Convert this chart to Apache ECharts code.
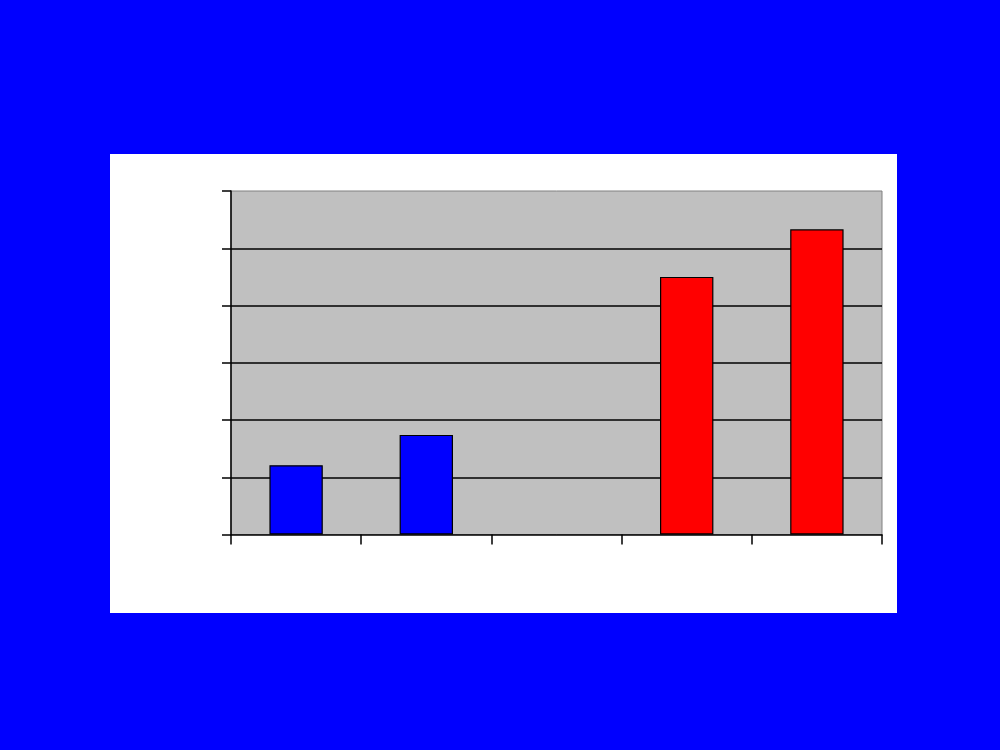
<!DOCTYPE html>
<html><head><meta charset="utf-8">
<script src="https://cdn.jsdelivr.net/npm/echarts@6/dist/echarts.min.js"></script>
<style>html,body{margin:0;padding:0;background:#0000FF;}#c{width:1000px;height:750px;}</style>
</head><body><div id="c"></div>
<script>
const categories = ['1', '2', '3', '4', '5'];
const blueValues = [1.21, 1.74, null, null, null];
const redValues = [null, null, null, 4.5, 5.33];
const yTicks = [0, 1, 2, 3, 4, 5, 6];

const chart = echarts.init(document.getElementById('c'));
chart.setOption({
  backgroundColor: '#0000FF',
  animation: false,
  graphic: [{
    type: 'rect', z: -10, silent: true,
    shape: { x: 110, y: 154, width: 787, height: 459 },
    style: { fill: '#FFFFFF' }
  }],
  grid: {
    left: 231, top: 191, width: 651, height: 343.5,
    show: true, backgroundColor: '#C0C0C0', borderColor: '#808080', borderWidth: 1
  },
  xAxis: {
    type: 'category', data: categories,
    axisLine: { lineStyle: { color: '#000', width: 1.5 } },
    axisTick: { show: true, length: 10, lineStyle: { color: '#000', width: 1.5 } },
    axisLabel: { show: false },
    splitLine: { show: false }
  },
  yAxis: {
    type: 'value', min: yTicks[0], max: yTicks[yTicks.length - 1], interval: 1,
    axisLine: { show: true, lineStyle: { color: '#000', width: 1.5 } },
    axisTick: { show: true, length: 9, lineStyle: { color: '#000', width: 1.5 } },
    axisLabel: { show: false },
    splitLine: { show: true, showMaxLine: false, showMinLine: false, lineStyle: { color: '#000', width: 1.5 } }
  },
  series: [
    { type: 'bar', data: blueValues, barWidth: '41%', barGap: '-100%',
      itemStyle: { color: '#0000FF', borderColor: '#000', borderWidth: 1.2 } },
    { type: 'bar', data: redValues, barWidth: '41%', barGap: '-100%',
      itemStyle: { color: '#FF0000', borderColor: '#000', borderWidth: 1.2 } }
  ]
});
</script></body></html>
